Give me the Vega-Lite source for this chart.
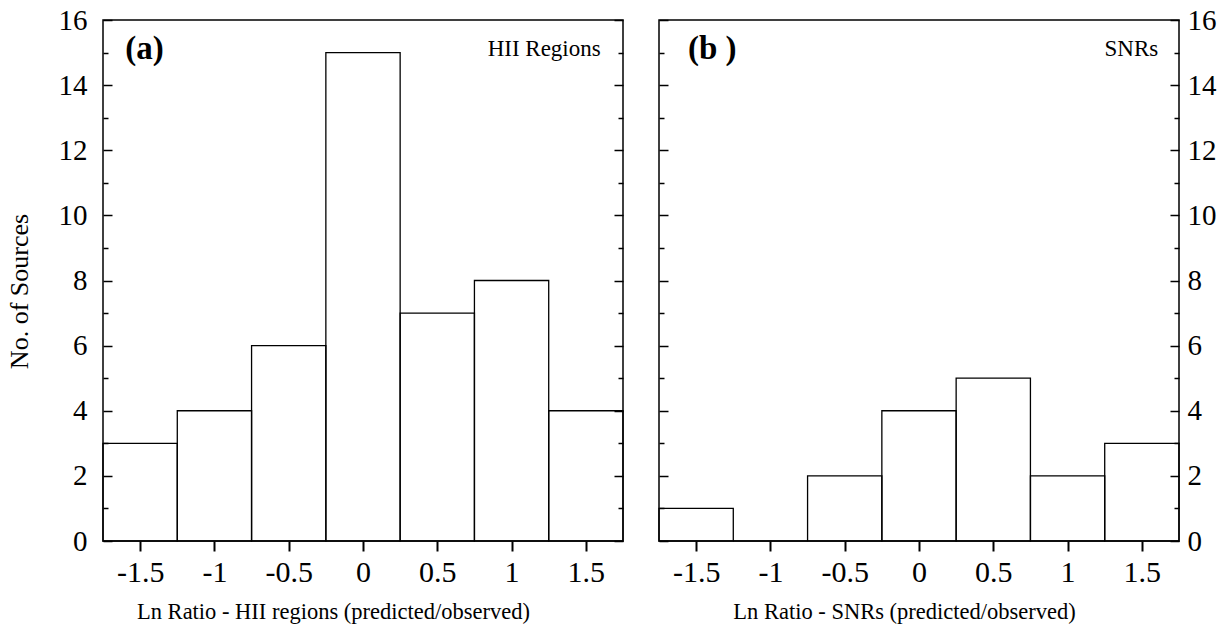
{
  "$schema": "https://vega.github.io/schema/vega-lite/v6.json",
  "background": "white",
  "padding": {"left": 5, "top": 5, "right": 5, "bottom": 5},
  "spacing": 30,
  "config": {
    "font": "Liberation Serif",
    "view": {"stroke": "black", "strokeWidth": 1.5},
    "axis": {"domain": false, "grid": false, "labelColor": "black", "titleColor": "black", "tickColor": "black", "titleFontWeight": "normal"}
  },
  "datasets": {
    "a": [
      {"lo": -1.75, "hi": -1.25, "n": 3},
      {"lo": -1.25, "hi": -0.75, "n": 4},
      {"lo": -0.75, "hi": -0.25, "n": 6},
      {"lo": -0.25, "hi": 0.25, "n": 15},
      {"lo": 0.25, "hi": 0.75, "n": 7},
      {"lo": 0.75, "hi": 1.25, "n": 8},
      {"lo": 1.25, "hi": 1.75, "n": 4}
    ],
    "b": [
      {"lo": -1.75, "hi": -1.25, "n": 1},
      {"lo": -1.25, "hi": -0.75, "n": 0},
      {"lo": -0.75, "hi": -0.25, "n": 2},
      {"lo": -0.25, "hi": 0.25, "n": 4},
      {"lo": 0.25, "hi": 0.75, "n": 5},
      {"lo": 0.75, "hi": 1.25, "n": 2},
      {"lo": 1.25, "hi": 1.75, "n": 3}
    ]
  },
  "hconcat": [
    {
      "width": 520,
      "height": 521,
      "resolve": {"axis": {"y": "independent"}},
      "layer": [
        {
          "data": {"name": "a"},
          "mark": {"type": "bar", "filled": false, "stroke": "black", "strokeWidth": 1.3},
          "encoding": {
            "x": {"field": "lo", "type": "quantitative", "scale": {"domain": [-1.75, 1.75], "nice": false, "zero": false},
              "axis": {"orient": "bottom", "values": [-1.5, -1, -0.5, 0, 0.5, 1, 1.5], "labelExpr": "datum.value < 0 ? '-' + format(-datum.value, '~g') : format(datum.value, '~g')", "tickSize": 10, "tickWidth": 2, "labelFontSize": 30, "labelPadding": 6, "title": "Ln Ratio - HII regions (predicted/observed)", "titleFontSize": 22.5, "titlePadding": 13, "titleX": 230}},
            "x2": {"field": "hi"},
            "y": {"field": "n", "type": "quantitative", "scale": {"domain": [0, 16], "nice": false},
              "axis": {"orient": "left", "values": [0, 1, 2, 3, 4, 5, 6, 7, 8, 9, 10, 11, 12, 13, 14, 15, 16], "labelExpr": "datum.value % 2 === 0 ? datum.label : ''", "tickSize": {"condition": {"test": "datum.value % 2 === 0", "value": -9}, "value": -5}, "tickWidth": 1.5, "labelFontSize": 29, "labelPadding": 25, "title": "No. of Sources", "titleFontSize": 26, "titlePadding": 26, "titleY": 271}},
            "y2": {"datum": 0}
          }
        },
        {
          "data": {"name": "a"},
          "mark": {"type": "point", "opacity": 0},
          "encoding": {
            "x": {"field": "lo", "type": "quantitative"},
            "y": {"field": "n", "type": "quantitative", "axis": {"orient": "right", "values": [0, 1, 2, 3, 4, 5, 6, 7, 8, 9, 10, 11, 12, 13, 14, 15, 16], "tickSize": {"condition": {"test": "datum.value % 2 === 0", "value": -9}, "value": -5}, "tickWidth": 1.5, "labels": false, "title": null}}
          }
        },
        {
          "data": {"values": [{}]},
          "mark": {"type": "text", "text": "(a)", "fontWeight": "bold", "fontSize": 33, "align": "left", "baseline": "middle"},
          "encoding": {"x": {"datum": -1.6}, "y": {"datum": 15.1, "axis": null}}
        },
        {
          "data": {"values": [{}]},
          "mark": {"type": "text", "text": "HII Regions", "fontSize": 23, "align": "right", "baseline": "middle"},
          "encoding": {"x": {"datum": 1.6}, "y": {"datum": 15.1, "axis": null}}
        }
      ]
    },
    {
      "width": 520,
      "height": 521,
      "resolve": {"axis": {"y": "independent"}},
      "layer": [
        {
          "data": {"name": "b"},
          "mark": {"type": "bar", "filled": false, "stroke": "black", "strokeWidth": 1.3},
          "encoding": {
            "x": {"field": "lo", "type": "quantitative", "scale": {"domain": [-1.75, 1.75], "nice": false, "zero": false},
              "axis": {"orient": "bottom", "values": [-1.5, -1, -0.5, 0, 0.5, 1, 1.5], "labelExpr": "datum.value < 0 ? '-' + format(-datum.value, '~g') : format(datum.value, '~g')", "tickSize": 10, "tickWidth": 2, "labelFontSize": 30, "labelPadding": 6, "title": "Ln Ratio - SNRs (predicted/observed)", "titleFontSize": 22.5, "titlePadding": 13, "titleX": 245}},
            "x2": {"field": "hi"},
            "y": {"field": "n", "type": "quantitative", "scale": {"domain": [0, 16], "nice": false},
              "axis": {"orient": "right", "values": [0, 1, 2, 3, 4, 5, 6, 7, 8, 9, 10, 11, 12, 13, 14, 15, 16], "labelExpr": "datum.value % 2 === 0 ? datum.label : ''", "tickSize": {"condition": {"test": "datum.value % 2 === 0", "value": -9}, "value": -5}, "tickWidth": 1.5, "labelFontSize": 29, "labelPadding": 17, "title": null}},
            "y2": {"datum": 0}
          }
        },
        {
          "data": {"name": "b"},
          "mark": {"type": "point", "opacity": 0},
          "encoding": {
            "x": {"field": "lo", "type": "quantitative"},
            "y": {"field": "n", "type": "quantitative", "axis": {"orient": "left", "values": [0, 1, 2, 3, 4, 5, 6, 7, 8, 9, 10, 11, 12, 13, 14, 15, 16], "tickSize": {"condition": {"test": "datum.value % 2 === 0", "value": -9}, "value": -5}, "tickWidth": 1.5, "labels": false, "title": null}}
          }
        },
        {
          "data": {"values": [{}]},
          "mark": {"type": "text", "text": "(b )", "fontWeight": "bold", "fontSize": 33, "align": "left", "baseline": "middle"},
          "encoding": {"x": {"datum": -1.555}, "y": {"datum": 15.1, "axis": null}}
        },
        {
          "data": {"values": [{}]},
          "mark": {"type": "text", "text": "SNRs", "fontSize": 23, "align": "right", "baseline": "middle"},
          "encoding": {"x": {"datum": 1.61}, "y": {"datum": 15.1, "axis": null}}
        }
      ]
    }
  ]
}
